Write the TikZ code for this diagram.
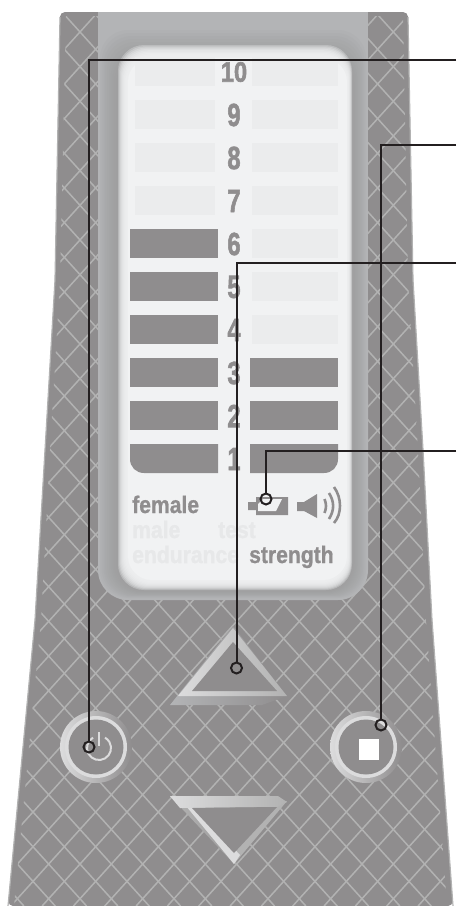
\documentclass[tikz,border=0pt]{standalone}
\usepackage{fontspec}
\setmainfont{Liberation Sans}
\newfontfamily\numfont[FakeBold=2.2]{Liberation Sans Bold}
\newfontfamily\labfont[FakeBold=0.9]{Liberation Sans Bold}
\definecolor{bodygray}{HTML}{8F8D8E}
\definecolor{latgray}{HTML}{B2B2B2}
\definecolor{bandgray}{HTML}{B3B4B6}
\definecolor{banddark}{HTML}{999999}
\definecolor{dispwhite}{HTML}{F1F2F3}
\definecolor{ghost}{HTML}{EBECED}
\definecolor{ghosttxt}{HTML}{E7E8E9}
\definecolor{ringlight}{HTML}{DCDCDD}
\definecolor{leader}{HTML}{231F20}
\tikzset{
  lab/.style={inner sep=0pt,anchor=base west,font=\fontsize{24}{24}\labfont\selectfont},
  num/.style={inner sep=0pt,anchor=center,text=bodygray,font=\fontsize{32}{32}\numfont\selectfont},
  leadline/.style={draw=leader,line width=2pt},
  dot/.style={circle,draw=leader,line width=2pt,minimum size=11pt,inner sep=0pt},
}
\begin{document}
\begin{tikzpicture}[x=1pt,y=-1pt]
\useasboundingbox (0,0) rectangle (456,906);
\fill[white] (0,0) rectangle (456,906);
% body
\fill[bodygray,rounded corners=5pt] (60,12) -- (408,12) -- (413,280) -- (423,450) -- (432,620) -- (453,906) -- (8,906) -- (35,620) -- (45,450) -- (55,280) -- cycle;
\draw[latgray,line width=1.2pt,line join=round] (8,906) -- (35,620) -- (45,450) -- (55,280) -- (60,17);
\draw[latgray,line width=1.2pt,line join=round] (453,906) -- (432,620) -- (423,450) -- (413,280) -- (408,17);
\begin{scope}
\clip (66,16) -- (403,16) -- (408,280) -- (418,450) -- (426,620) -- (447,906) -- (14,906) -- (41,620) -- (50,450) -- (60,280) -- cycle;
\foreach \k in {-30,...,40}{
  \draw[latgray,line width=1.5pt] ({-700.8+31.33*\k},0) -- ({-700.8+31.33*\k+818.7},906);
  \draw[latgray,line width=1.5pt] ({766.8+31.33*\k},0) -- ({766.8+31.33*\k-818.7},906);
}
\end{scope}
% band
\fill[bandgray,rounded corners=30pt] (98,300) rectangle (368,600);
\fill[bandgray] (98,12) rectangle (368,400);
% darker soft rim around the display
\foreach \t in {0,...,9}{
  \fill[banddark,opacity=.1,rounded corners=28pt]
    ({100+1.8*\t},{30+3*\t}) rectangle ({366-1.5*\t},{598-0.8*\t});
}
% display with soft edge
\foreach \t in {0,...,9}{
  \fill[dispwhite,opacity=.3,rounded corners=26pt]
    ({118+1.0*\t},{45+1.3*\t}) rectangle ({352-0.5*\t},{590-1.0*\t});
}
\fill[dispwhite,rounded corners=24pt] (128,58) rectangle (347,580);
% ghost bars
\foreach \y in {57,100,143,186}{
  \fill[ghost] (135,\y) rectangle (215,\y+29);
}
\foreach \y in {57,100,143,186,229,272,315}{
  \fill[ghost] (252,\y) rectangle (338,\y+29);
}
% bars
\foreach \y in {229,272,315,358,401}{
  \fill[bodygray] (130,\y) rectangle (218,\y+29);
}
\foreach \y in {358,401}{
  \fill[bodygray] (250,\y) rectangle (338,\y+29);
}
\fill[bodygray] (130,444) -- (218,444) -- (218,473) -- (144,473) .. controls (136,473) and (130,467) .. (130,459) -- cycle;
\fill[bodygray] (250,444) -- (338,444) -- (338,459) .. controls (338,467) and (332,473) .. (324,473) -- (250,473) -- cycle;
% numbers
\node[num] (n10) at (234,72) {\scalebox{.74}[.88]{10}};
\node[num] (n9) at (234,115) {\scalebox{.74}[1]{9}};
\node[num] (n8) at (234,158) {\scalebox{.74}[1]{8}};
\node[num] (n7) at (234,201) {\scalebox{.74}[1]{7}};
\node[num] (n6) at (234,244) {\scalebox{.74}[1]{6}};
\node[num] (n5) at (234,287) {\scalebox{.74}[1]{5}};
\node[num] (n4) at (234,330) {\scalebox{.74}[1]{4}};
\node[num] (n3) at (234,373) {\scalebox{.74}[1]{3}};
\node[num] (n2) at (234,416) {\scalebox{.74}[1]{2}};
\node[num] (n1) at (234,459) {\scalebox{.74}[1]{1}};
% labels
\node[lab,text=bodygray] (tfemale) at (132,513) {\scalebox{.88}[1]{female}};
\node[lab,text=ghosttxt] (tmale) at (132,538) {\scalebox{.88}[1]{male}};
\node[lab,text=ghosttxt] (ttest) at (218,538) {\scalebox{.88}[1]{test}};
\node[lab,text=ghosttxt] (tend) at (132,563) {\scalebox{.88}[1]{endurance}};
\node[lab,text=bodygray] (tstr) at (249,563) {\scalebox{.88}[1]{strength}};
% battery icon
\fill[bodygray] (248,502) -- (256,502) -- (256,497) -- (288,497) -- (288,515) -- (256,515) -- (256,510) -- (248,510) -- cycle;
\fill[dispwhite] (263,499) -- (282,499) -- (276,511) -- (258,511) -- (258,504) -- cycle;
% speaker icon
\fill[bodygray] (297,502) -- (304,502) -- (317,494) -- (317,518) -- (304,511) -- (297,511) -- cycle;
\draw[bodygray,line width=2.6pt] (324.5,499) .. controls (326.5,504) and (326.5,508) .. (324.5,513);
\draw[bodygray,line width=2.6pt] (329,493) .. controls (334.5,502) and (334.5,510) .. (329,519);
\draw[bodygray,line width=2.6pt] (334,487) .. controls (342,498) and (342,514) .. (334,523);
% up triangle
\shade[left color=bandgray,right color=bodygray] (170,705) -- (262,705) -- (287,696) -- (233,626) -- cycle;
\shade[left color=ringlight,right color=latgray] (178,696) -- (287,696) -- (233,628) -- cycle;
\fill[bodygray] (192,691) -- (277,691) -- (233,642) -- cycle;
% down triangle
\shade[left color=latgray,right color=bodygray] (170,796) -- (287,800) -- (234,864) -- cycle;
\fill[latgray] (287,801) -- (234,864) -- (200,820) -- cycle;
\fill[ringlight] (186,806) -- (234,864) -- (240,855) -- (195,806) -- cycle;
\shade[left color=ringlight,right color=latgray] (170,796) -- (278,796) -- (287,802) -- (277,807) -- (180,808) -- cycle;
\fill[bodygray] (192,808) -- (277,807) -- (234,853) -- cycle;
% power button
\shade[left color=ringlight,right color=bodygray] (96,747) circle (36);
\fill[ringlight] (96,747) circle (31);
\fill[bodygray] (96,747) circle (27.5);
\draw[ringlight,line width=2pt] (93,737.6) arc[start angle=240,end angle=-60,radius=12];
\draw[ringlight,line width=2pt] (99,732) -- (99,746);
% stop button
\shade[left color=ringlight,right color=bodygray] (366,747) circle (36);
\fill[ringlight] (366,747) circle (31);
\fill[bodygray] (366,747) circle (27.5);
\fill[white] (359,739) rectangle (379,760);
% leaders
\coordinate (e1) at (456,59.5);
\coordinate (e2) at (456,145);
\coordinate (e3) at (456,262.5);
\coordinate (e4) at (456,451);
\node[dot] (c1) at (89,747) {};
\node[dot] (c2) at (381,725) {};
\node[dot] (c3) at (236.5,668) {};
\node[dot] (c4) at (266,499) {};
\draw[leadline] (e1) -| (c1.north);
\draw[leadline] (e2) -| (c2.north);
\draw[leadline] (e3) -| (c3.north);
\draw[leadline] (e4) -| (c4.north);
\end{tikzpicture}
\end{document}
